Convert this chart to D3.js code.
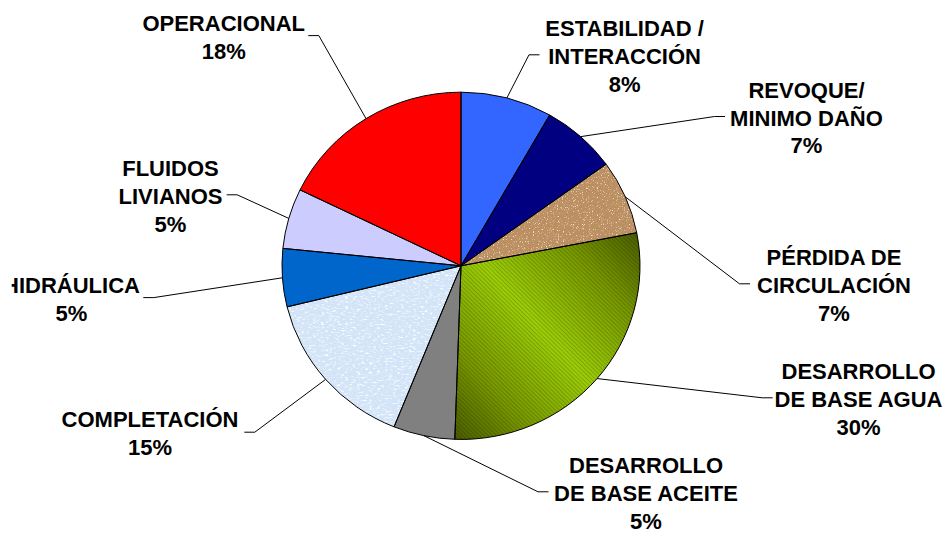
<!DOCTYPE html>
<html>
<head>
<meta charset="utf-8">
<script src="https://cdn.jsdelivr.net/npm/d3@7/dist/d3.min.js"></script>
<style>
  html, body { margin: 0; padding: 0; background: #ffffff; }
  svg { display: block; }
  text { font-family: "Liberation Sans", Arial, sans-serif; font-weight: bold; font-size: 22px; fill: #000; }
</style>
</head>
<body>
<div id="chart"></div>
<script>
// ---- data ----
const categories = [
  ["ESTABILIDAD /", "INTERACCIÓN"],
  ["REVOQUE/", "MINIMO DAÑO"],
  ["PÉRDIDA DE", "CIRCULACIÓN"],
  ["DESARROLLO", "DE BASE AGUA"],
  ["DESARROLLO", "DE BASE ACEITE"],
  ["COMPLETACIÓN"],
  ["HIDRÁULICA"],
  ["FLUIDOS", "LIVIANOS"],
  ["OPERACIONAL"]
];
const values = [8.25, 6.8, 6.9, 28.6, 5.55, 15.1, 5.4, 5.6, 17.8];
const percentLabels = ["8%", "7%", "7%", "30%", "5%", "15%", "5%", "5%", "18%"];

// ---- layout ----
const W = 949, H = 533;
const cx = 461, cy = 265.8, R = 179, squash = 0.97;
const fills = ["#3366FF", "#000080", "url(#cork)", "url(#greenGrad)", "#808080",
               "url(#paperBlue)", "#0066CC", "#CCCCFF", "#FF0000"];
// label block: center x, first baseline, leader elbow x (end of the short horizontal), side
const labelLayout = [
  {x: 624.6, y: 36,    ex: 539.5, side: "R"},
  {x: 806.5, y: 97.7,  ex: 725,   side: "R"},
  {x: 834,   y: 265,   ex: 750,   side: "R"},
  {x: 858.5, y: 379,   ex: 772.7, side: "R"},
  {x: 646,   y: 473,   ex: 548.5, side: "R"},
  {x: 150,   y: 427.3, ex: 244.3, side: "L"},
  {x: 71.5,  y: 292.7, ex: 143.3, side: "L"},
  {x: 170.5, y: 176,   ex: 226.7, side: "L"},
  {x: 223.7, y: 30.7,  ex: 308.3, side: "L"}
];
const lineH = 27.8;

const svg = d3.select("#chart").append("svg").attr("width", W).attr("height", H);
const defs = svg.append("defs");

// cork texture
const cork = defs.append("filter").attr("id", "corkF").attr("x", 0).attr("y", 0).attr("width", 1).attr("height", 1);
cork.append("feTurbulence").attr("type", "fractalNoise").attr("baseFrequency", 0.8).attr("numOctaves", 3).attr("seed", 7).attr("result", "n");
cork.append("feColorMatrix").attr("in", "n").attr("type", "matrix")
  .attr("values", "0 0 0 0 0.45  0 0 0 0 0.27  0 0 0 0 0.13  5 0 0 0 -2.35").attr("result", "dark");
cork.append("feColorMatrix").attr("in", "n").attr("type", "matrix")
  .attr("values", "0 0 0 0 0.90  0 0 0 0 0.78  0 0 0 0 0.62  0 -5 0 0 2.1").attr("result", "light");
cork.append("feFlood").attr("flood-color", "#BF9060").attr("result", "base");
cork.append("feComposite").attr("in", "light").attr("in2", "base").attr("operator", "over").attr("result", "t1");
cork.append("feComposite").attr("in", "dark").attr("in2", "t1").attr("operator", "over").attr("result", "t2");
cork.append("feComposite").attr("in", "t2").attr("in2", "SourceGraphic").attr("operator", "in");

// paper blue texture
const pb = defs.append("filter").attr("id", "paperF").attr("x", 0).attr("y", 0).attr("width", 1).attr("height", 1);
pb.append("feTurbulence").attr("type", "fractalNoise").attr("baseFrequency", "0.25 0.6").attr("numOctaves", 3).attr("seed", 3).attr("result", "n");
pb.append("feColorMatrix").attr("in", "n").attr("type", "matrix")
  .attr("values", "0 0 0 0 0.97  0 0 0 0 0.98  0 0 0 0 1  4 0 0 0 -2.2").attr("result", "wh");
pb.append("feColorMatrix").attr("in", "n").attr("type", "matrix")
  .attr("values", "0 0 0 0 0.72  0 0 0 0 0.83  0 0 0 0 0.95  0 -4 0 0 1.75").attr("result", "bl");
pb.append("feFlood").attr("flood-color", "#D3E4F8").attr("result", "base");
pb.append("feComposite").attr("in", "bl").attr("in2", "base").attr("operator", "over").attr("result", "t1");
pb.append("feComposite").attr("in", "wh").attr("in2", "t1").attr("operator", "over").attr("result", "t2");
pb.append("feComposite").attr("in", "t2").attr("in2", "SourceGraphic").attr("operator", "in");

// green gradient
const gg = defs.append("linearGradient").attr("id", "greenGrad")
  .attr("x1", 1).attr("y1", 0).attr("x2", 0).attr("y2", 1);
gg.append("stop").attr("offset", 0).attr("stop-color", "#4A5C00");
gg.append("stop").attr("offset", 0.22).attr("stop-color", "#779700");
gg.append("stop").attr("offset", 0.5).attr("stop-color", "#9CCE08");
gg.append("stop").attr("offset", 0.78).attr("stop-color", "#779700");
gg.append("stop").attr("offset", 1).attr("stop-color", "#4A5C00");
// stripes
const sp = defs.append("pattern").attr("id", "stripes").attr("patternUnits", "userSpaceOnUse")
  .attr("width", 3).attr("height", 3).attr("patternTransform", "rotate(-45)");
sp.append("rect").attr("x", 0).attr("y", 0).attr("width", 1).attr("height", 3).attr("fill", "#000").attr("opacity", 0.18);

const pie = d3.pie().sort(null).value(d => d)(values);
const arc = d3.arc().innerRadius(0).outerRadius(R);

const g = svg.append("g").attr("transform", `translate(${cx},${cy}) scale(1,${squash})`);

g.selectAll("path.fill").data(pie).enter().append("path")
  .attr("class", "fill")
  .attr("d", arc)
  .attr("fill", (d, i) => fills[i] === "url(#cork)" || fills[i] === "url(#paperBlue)" ? "#fff" : fills[i])
  .attr("filter", (d, i) => fills[i] === "url(#cork)" ? "url(#corkF)" : (fills[i] === "url(#paperBlue)" ? "url(#paperF)" : null));

// stripes overlay on green slice
g.selectAll("path.str").data(pie.filter((d, i) => fills[i] === "url(#greenGrad)")).enter().append("path")
  .attr("class", "str").attr("d", arc).attr("fill", "url(#stripes)");

// outlines
g.selectAll("path.outline").data(pie).enter().append("path")
  .attr("class", "outline")
  .attr("d", arc)
  .attr("fill", "none")
  .attr("stroke", "#000")
  .attr("stroke-width", 1)
  .attr("vector-effect", "non-scaling-stroke");

// labels
const clip = defs.append("clipPath").attr("id", "areaClip");
clip.append("rect").attr("x", 11.7).attr("y", 0).attr("width", W).attr("height", H);
const lg = svg.append("g").attr("clip-path", "url(#areaClip)");

pie.forEach((d, i) => {
  const L = labelLayout[i];
  const lines = categories[i].concat([percentLabels[i]]);
  const t = lg.append("text").attr("text-anchor", "middle");
  lines.forEach((s, k) => {
    t.append("tspan").attr("x", L.x).attr("y", L.y + k * lineH).text(s);
  });
  const mid = (d.startAngle + d.endAngle) / 2;
  const px = cx + R * Math.sin(mid);
  const py = cy - R * squash * Math.cos(mid);
  const ly = L.y + (lines.length - 1) * lineH / 2 - 9;
  const seg = 10.5;
  const bx = L.side === "R" ? L.ex - seg : L.ex + seg;
  lg.append("path")
    .attr("d", d3.line()([[px, py], [bx, ly], [L.ex, ly]]))
    .attr("fill", "none").attr("stroke", "#000").attr("stroke-width", 1);
});
</script>
</body>
</html>
